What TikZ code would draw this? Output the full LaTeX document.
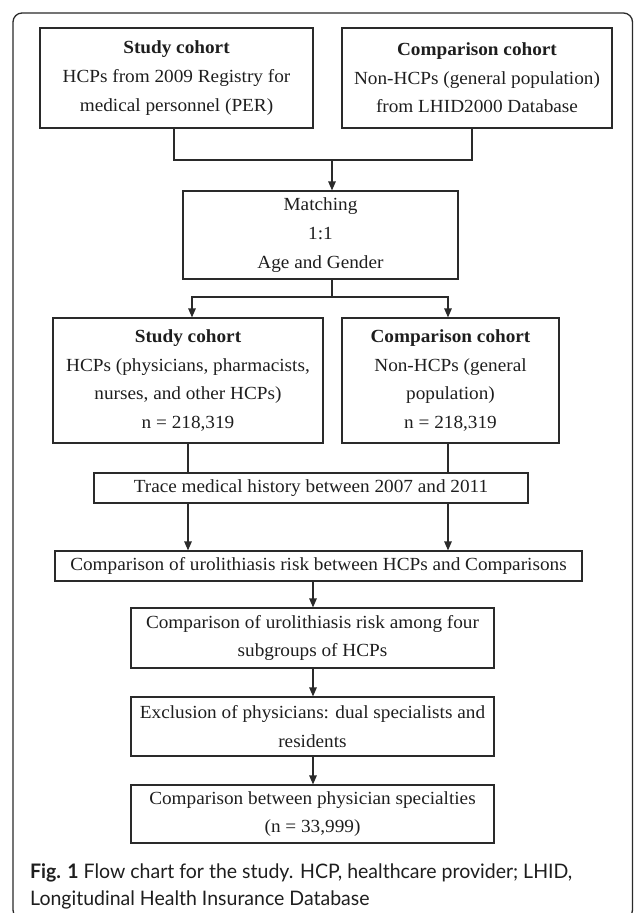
\documentclass[tikz,border=0pt]{standalone}
\usepackage{fontspec}
\setmainfont[FakeStretch=1.04]{Liberation Serif}
\newfontfamily\capfont[FakeStretch=0.975]{Lato}
\usepackage{xcolor}
\usepackage{tikz}
\usetikzlibrary{calc,arrows.meta}
\definecolor{ink}{HTML}{1E1E1E}
\definecolor{rule}{HTML}{2A2A2A}
\tikzset{
  box/.style={draw=rule, line width=1.2pt, align=center, inner sep=0pt, text=ink,
    font=\fontsize{18.5}{28.6}\selectfont},
  wire/.style={draw=rule, line width=1.2pt},
  arr/.style={wire, -{Triangle[length=9pt,width=7.5pt]}},
  frame/.style={draw=rule, line width=1.3pt, rounded corners=9pt},
  captext/.style={text=ink, anchor=north west, align=left, inner sep=0pt,
    font=\capfont\fontsize{20}{27}\selectfont},
}
\begin{document}
\begin{tikzpicture}[x=1pt,y=-1pt]
  \useasboundingbox (0,0) rectangle (633,913);
  % outer frame of the figure
  \draw[frame] (13,13) rectangle (632.5,919);
  % the two source cohorts
  \node[box, minimum width=273, minimum height=100] (src1) at (176.5,78)
    {\textbf{Study cohort}\\HCPs from 2009 Registry for\\medical personnel (PER)};
  \node[box, minimum width=270, minimum height=100] (src2) at (477,78)
    {\textbf{Comparison cohort}\\Non-HCPs (general population)\\from LHID2000 Database};
  \node[box, minimum width=275, minimum height=88] (match) at (320.5,235)
    {Matching\\1:1\\Age and Gender};
  % matched cohorts
  \node[box, minimum width=270, minimum height=125] (hcp) at (188,380.5)
    {\textbf{Study cohort}\\HCPs (physicians, pharmacists,\\nurses, and other HCPs)\\n = 218,319};
  \node[box, minimum width=217, minimum height=125] (nonhcp) at (450.5,380.5)
    {\textbf{Comparison cohort}\\Non-HCPs (general\\population)\\n = 218,319};
  \node[box, minimum width=434, minimum height=30] (trace) at (311,488)
    {Trace medical history between 2007 and 2011};
  \node[box, minimum width=527, minimum height=30] (risk) at (318.5,566)
    {Comparison of urolithiasis risk between HCPs and Comparisons};
  \node[box, minimum width=363, minimum height=60] (sub) at (312.5,638)
    {Comparison of urolithiasis risk among four\\subgroups of HCPs};
  \node[box, minimum width=363, minimum height=59] (excl) at (312.5,726.5)
    {Exclusion of physicians: dual specialists and\\residents};
  \node[box, minimum width=363, minimum height=58] (spec) at (312.5,814)
    {Comparison between physician specialties\\(n = 33,999)};
  % connectors
  \coordinate (joinA) at (332,160);
  \coordinate (joinB) at (332,297);
  \coordinate (colL) at (188,0);
  \coordinate (colM) at (313,0);
  \coordinate (colR) at (448,0);
  \draw[wire] ([xshift=-2.5pt]src1.south) |- (joinA) -| ([xshift=-5pt]src2.south);
  \draw[arr] (joinA) -- (joinA |- match.north);
  \draw[wire] (match.south -| joinB) -- (joinB);
  \draw[arr] (joinB) -| ([xshift=4pt]hcp.north);
  \draw[arr] (joinB) -| (hcp.north -| colR);
  \foreach \A/\C in {hcp/colL,nonhcp/colR}{
    \draw[wire] (\A.south -| \C) -- (trace.north -| \C);
    \draw[arr] (trace.south -| \C) -- (risk.north -| \C);
  }
  \foreach \A/\B in {risk/sub,sub/excl,excl/spec}
    \draw[arr] (\A.south -| colM) -- (\B.north -| colM);
  % caption
  \node[captext] (caption) at (30,863)
    {\textbf{Fig. 1} Flow chart for the study. HCP, healthcare provider; LHID,\\Longitudinal Health Insurance Database};
\end{tikzpicture}
\end{document}
